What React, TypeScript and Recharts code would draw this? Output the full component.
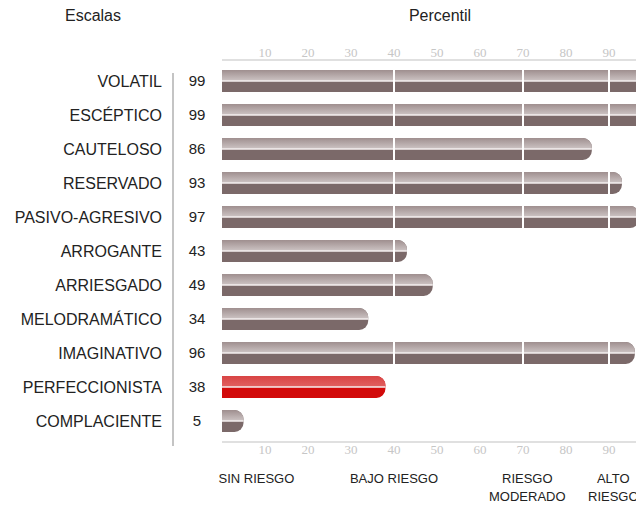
import React from 'react';
import { BarChart, Bar, XAxis, YAxis } from 'recharts';

const categories = [
  'VOLATIL',
  'ESCÉPTICO',
  'CAUTELOSO',
  'RESERVADO',
  'PASIVO-AGRESIVO',
  'ARROGANTE',
  'ARRIESGADO',
  'MELODRAMÁTICO',
  'IMAGINATIVO',
  'PERFECCIONISTA',
  'COMPLACIENTE',
];
const scores = [99, 99, 86, 93, 97, 43, 49, 34, 96, 38, 5];
const highlighted = ['PERFECCIONISTA'];
const percentTicks = [10, 20, 30, 40, 50, 60, 70, 80, 90];
const riskCuts = [40, 70, 90];
const zoneLabels = ['SIN RIESGO', 'BAJO RIESGO', 'RIESGO\nMODERADO', 'ALTO\nRIESGO'];
const zoneCenters = [8, 40, 71, 91];

const data = categories.map((name, i) => ({ name, score: scores[i], hl: highlighted.includes(name) }));

const SANS = '"Liberation Sans", Arial, sans-serif';
const SERIF = '"Liberation Serif", "Times New Roman", serif';

const NameTick = ({ y, payload, index }: any) => (
  <g>
    <text x={154} y={y} dy="0.35em" textAnchor="end" fontSize={16} fill="#222" fontFamily={SANS}>
      {payload.value}
    </text>
    <text x={189} y={y} dy="0.35em" textAnchor="middle" fontSize={15} fill="#222" fontFamily={SANS}>
      {scores[index]}
    </text>
  </g>
);

const ZoneTick = ({ x, y, payload }: any) => {
  const i = zoneCenters.indexOf(payload.value);
  const lines = (zoneLabels[i] || '').split('\n');
  return (
    <text x={x} y={y} textAnchor="middle" fontSize={13} fill="#222" fontFamily={SANS}>
      {lines.map((l, k) => (
        <tspan key={k} x={x} dy={k === 0 ? '0.8em' : '1.35em'}>{l}</tspan>
      ))}
    </text>
  );
};

const RiskBar = (props: any) => {
  const { x, y, width, height, payload } = props;
  if (!width || width <= 0) return null;
  const r = Math.min(9, height / 2, width);
  const mid = y + height / 2;
  const full = `M${x},${y} H${x + width - r} A${r},${r} 0 0 1 ${x + width},${y + r} V${y + height - r} A${r},${r} 0 0 1 ${x + width - r},${y + height} H${x} Z`;
  const top = `M${x},${y} H${x + width - r} A${r},${r} 0 0 1 ${x + width},${y + r} V${mid} H${x} Z`;
  const per = width / payload.score;
  return (
    <g>
      <path d={full} fill={payload.hl ? '#d20a0a' : '#7b6969'} />
      <path d={top} fill={payload.hl ? 'url(#redTop)' : 'url(#greyTop)'} />
      <line x1={x} x2={x + width} y1={mid} y2={mid} stroke="#f4efef" strokeWidth={1.5} />
      {riskCuts.filter(c => c < payload.score).map(c => (
        <line key={c} x1={x + per * c} x2={x + per * c} y1={y - 1} y2={y + height + 1} stroke="#fff" strokeWidth={2} />
      ))}
    </g>
  );
};

const App: React.FC = () => {
  return (
    <div style={{ position: 'relative', width: 636, height: 505, overflow: 'hidden', fontFamily: SANS }}>
      <style>{'body{margin:0}'}</style>
      <div style={{ position: 'absolute', left: 93, top: 7, width: 0, display: 'flex', justifyContent: 'center', fontSize: 16, color: '#222', whiteSpace: 'nowrap' }}>
        Escalas
      </div>
      <div style={{ position: 'absolute', left: 440, top: 7, width: 0, display: 'flex', justifyContent: 'center', fontSize: 16, color: '#222', whiteSpace: 'nowrap' }}>
        Percentil
      </div>
      <div style={{ position: 'absolute', left: 172, top: 73, width: 2, height: 373, background: '#c4c4c4' }} />
      <div style={{ position: 'absolute', left: 8, top: 8 }}>
        <BarChart
          width={660}
          height={497}
          data={data}
          layout="vertical"
          margin={{ top: 22, right: 16, bottom: 0, left: 0 }}
        >
          <defs>
            <linearGradient id="greyTop" x1="0" y1="0" x2="0" y2="1">
              <stop offset="0%" stopColor="#9f8f8f" />
              <stop offset="100%" stopColor="#cdc4c4" />
            </linearGradient>
            <linearGradient id="redTop" x1="0" y1="0" x2="0" y2="1">
              <stop offset="0%" stopColor="#d84444" />
              <stop offset="100%" stopColor="#e26060" />
            </linearGradient>
          </defs>
          <XAxis
            xAxisId="top"
            type="number"
            orientation="top"
            domain={[0, 100]}
            allowDataOverflow
            ticks={percentTicks}
            height={30}
            tickLine={false}
            tickSize={0}
            tickMargin={3}
            axisLine={{ stroke: '#d6d6d6', strokeWidth: 1.5 }}
            tick={{ fontSize: 13, fill: '#c6c6c6', fontFamily: SERIF }}
          />
          <XAxis
            xAxisId="bottom"
            type="number"
            orientation="bottom"
            domain={[0, 100]}
            allowDataOverflow
            ticks={percentTicks}
            height={22}
            tickLine={false}
            tickSize={0}
            tickMargin={3}
            axisLine={{ stroke: '#d6d6d6', strokeWidth: 1.5 }}
            tick={{ fontSize: 13, fill: '#c6c6c6', fontFamily: SERIF }}
          />
          <XAxis
            xAxisId="zones"
            type="number"
            orientation="bottom"
            domain={[0, 100]}
            allowDataOverflow
            ticks={zoneCenters}
            height={41}
            tickLine={false}
            tickSize={0}
            tickMargin={9}
            axisLine={false}
            interval={0}
            tick={(p: any) => <ZoneTick {...p} />}
          />
          <YAxis
            type="category"
            dataKey="name"
            width={214}
            axisLine={false}
            tickLine={false}
            interval={0}
            padding={{ top: 4, bottom: 4 }}
            tick={(p: any) => <NameTick {...p} />}
          />
          <Bar
            xAxisId="top"
            dataKey="score"
            barSize={22}
            isAnimationActive={false}
            shape={(p: any) => <RiskBar {...p} />}
          />
        </BarChart>
      </div>
    </div>
  );
};

export default App;
